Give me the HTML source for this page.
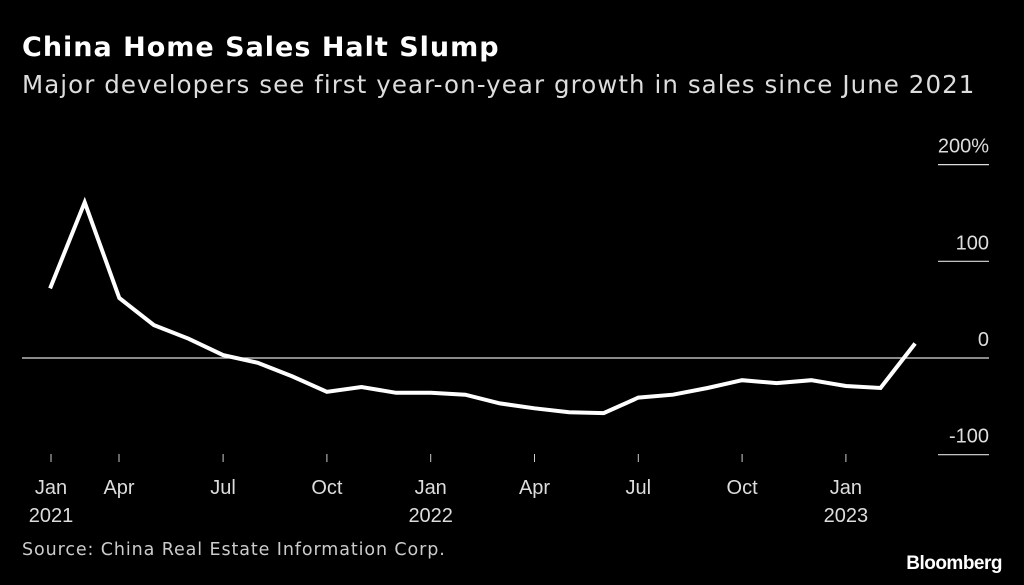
<!DOCTYPE html>
<html><head><meta charset="utf-8"><style>
body{margin:0;background:#000;width:1024px;height:585px;overflow:hidden;font-family:"Liberation Sans",sans-serif;color:#fff}
.t{position:absolute;left:22px;top:32px;font-family:"DejaVu Sans",sans-serif;font-size:27px;font-weight:bold;white-space:nowrap;letter-spacing:1px}
.s{position:absolute;left:22px;top:70px;font-family:"DejaVu Sans",sans-serif;font-size:24.5px;color:#ddd;white-space:nowrap;letter-spacing:1.07px}
.src{position:absolute;left:22px;top:540px;font-family:"DejaVu Sans",sans-serif;font-size:17.5px;color:#ccc;white-space:nowrap;letter-spacing:0.9px}
.bb{position:absolute;right:22px;top:553px;font-size:19px;font-weight:bold;letter-spacing:-0.5px}
svg{position:absolute;left:0;top:0}
</style></head><body>
<div class="t">China Home Sales Halt Slump</div>
<div class="s">Major developers see first year-on-year growth in sales since June 2021</div>
<svg id="c" width="1024" height="585"></svg>
<div class="src">Source: China Real Estate Information Corp.</div>
<div class="bb">Bloomberg</div>
<script>
const values=[72,161,62,34,20,3,-5,-19,-35,-30,-36,-36,-38,-47,-52,-56,-57,-41,-38,-31,-23,-26,-23,-29,-31,15];
const yTicks=[200,100,0,-100];
const yTickLabels=["200%","100","0","-100"];
const xTickMonths=[0,3,6,9,12,15,18,21,24];
const xTickLabels=[["Jan","2021"],["Apr",""],["Jul",""],["Oct",""],["Jan","2022"],["Apr",""],["Jul",""],["Oct",""],["Jan","2023"]];
const firstMonth=1;
const svg=document.getElementById('c');const NS='http://www.w3.org/2000/svg';
const X=m=>15.5+m*34.6, Y=v=>358-v*0.967;
function mk(t,a){const e=document.createElementNS(NS,t);for(const k in a)e.setAttribute(k,a[k]);svg.appendChild(e);return e;}
yTicks.forEach((v,i)=>{
 let l;
 if(v===0){l=mk('line',{x1:22,x2:989,y1:Y(v),y2:Y(v),stroke:'#ddd','stroke-width':1.2});}
 else{l=mk('line',{x1:938,x2:989,y1:Y(v),y2:Y(v),stroke:'#ddd','stroke-width':1.2});}
 
 
 const t=mk('text',{x:989,y:Y(v)-12,'text-anchor':'end','font-size':20,fill:'#ddd'});
 t.textContent=yTickLabels[i];
 
 
});
xTickMonths.forEach((m,i)=>{
 const x=i===0?51:(i===1?119:X(m));
 const tk=mk('line',{x1:x,x2:x,y1:454,y2:462,stroke:'#ccc','stroke-width':1});
 
 
 const t=mk('text',{x:x,y:494,'text-anchor':'middle','font-size':20,fill:'#ddd'});
 t.textContent=xTickLabels[i][0];
 
 
 if(xTickLabels[i][1]){const t2=mk('text',{x:x,y:522,'text-anchor':'middle','font-size':20,fill:'#ddd'});t2.textContent=xTickLabels[i][1];
 
 }
});
const pts=values.map((v,i)=>X(firstMonth+i).toFixed(1)+','+Y(v).toFixed(1)).join(' ');
const pl=mk('polyline',{points:pts,fill:'none',stroke:'#fff','stroke-width':4,'stroke-linejoin':'miter'});


</script>
</body></html>
